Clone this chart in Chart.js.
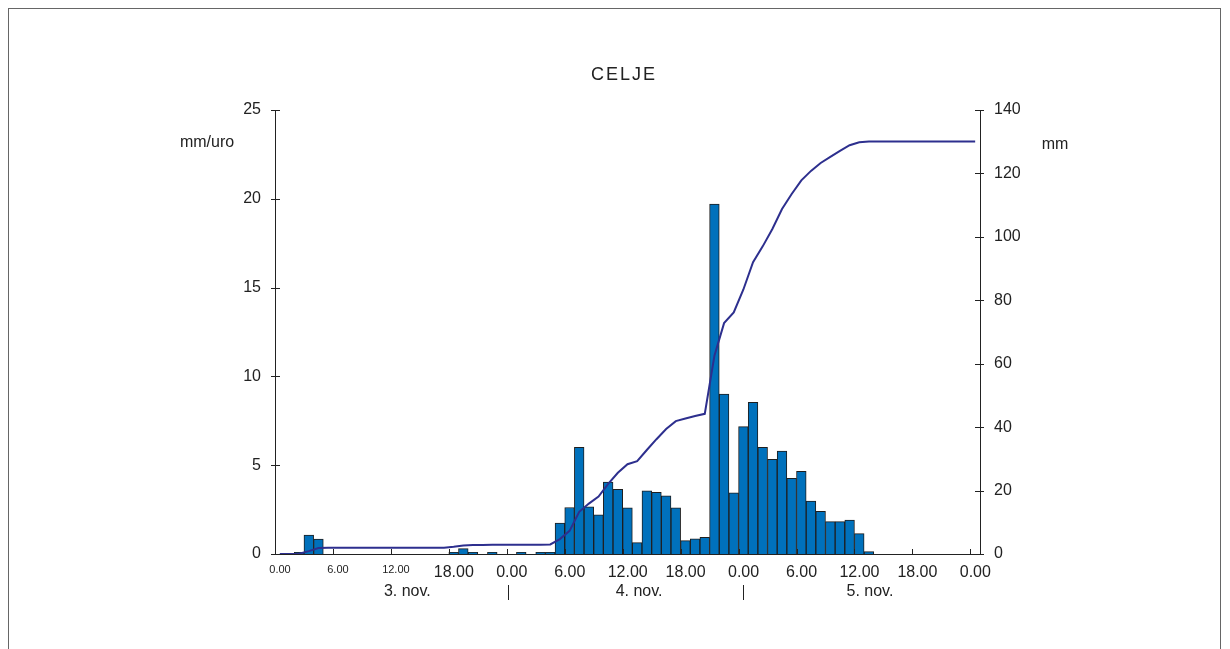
<!DOCTYPE html>
<html>
<head>
<meta charset="utf-8">
<script src="https://cdn.jsdelivr.net/npm/chart.js@4.4.0/dist/chart.umd.min.js"></script>
<style>
  body { margin: 0; background: #fff; }
  canvas { display: block; }
</style>
</head>
<body>
<canvas id="rain" width="1230" height="649"></canvas>
<script>
// hourly rain in Celje (mm/uro), one value per hour starting 3. nov. 0.00
var hourlyRain = [
  0, 0, 0.1, 1.07, 0.84, 0, 0, 0, 0, 0, 0, 0,
  0, 0, 0, 0, 0, 0, 0.1, 0.3, 0.1, 0, 0.1, 0,
  0, 0.1, 0, 0.1, 0.1, 1.74, 2.62, 6.0, 2.66, 2.2, 4.05, 3.64,
  2.6, 0.64, 3.56, 3.47, 3.27, 2.6, 0.75, 0.86, 0.94, 19.7, 9.0, 3.45,
  7.17, 8.54, 6.0, 5.33, 5.8, 4.26, 4.65, 2.98, 2.4, 1.82, 1.82, 1.91,
  1.15, 0.13, 0, 0, 0, 0, 0, 0, 0, 0, 0, 0
];

// accumulated rain (mm), read at the middle of each hour
var totalRain = [
  0, 0, 0.1, 0.9, 1.9, 2.0, 2.0, 2.0, 2.0, 2.0, 2.0, 2.0,
  2.0, 2.0, 2.0, 2.0, 2.0, 2.0, 2.3, 2.7, 2.8, 2.8, 2.9, 2.9,
  2.9, 2.9, 2.9, 2.9, 3.0, 4.7, 7.3, 13.3, 15.9, 18.1, 22.1, 25.6,
  28.3, 29.3, 32.8, 36.2, 39.4, 41.9, 42.7, 43.5, 44.2, 62.5, 72.8, 76.2,
  83.4, 92.0, 97.0, 102.5, 108.8, 113.5, 117.8, 120.8, 123.3, 125.2, 127.1, 128.9,
  129.8, 130.1, 130.1, 130.1, 130.1, 130.1, 130.1, 130.1, 130.1, 130.1, 130.1, 130.1,
  130.1
];

// time axis
var tickHours = [0, 6, 12, 18, 24, 30, 36, 42, 48, 54, 60, 66, 72];
var tickLabels = ["0.00", "6.00", "12.00", "18.00", "0.00", "6.00", "12.00", "18.00", "0.00", "6.00", "12.00", "18.00", "0.00"];
var dayLabels = ["3. nov.", "4. nov.", "5. nov."];
var dayLabelHours = [13.7, 37.7, 61.6];
var dayBreakHours = [24.1, 48.5];

var fontFamily = '"Liberation Sans", Arial, Helvetica, sans-serif';
var textColor = "#222";

// build points, bars sit in the middle of their hour
var barPoints = [];
for (var i = 0; i < hourlyRain.length; i++) {
  if (hourlyRain[i] > 0) {
    barPoints.push({ x: i + 0.5, y: hourlyRain[i] });
  }
}
var linePoints = [];
for (var i = 0; i < totalRain.length; i++) {
  linePoints.push({ x: i + 0.5, y: totalRain[i] });
}

// frame, axis ticks and the extra labels
var extrasPlugin = {
  id: "extras",
  beforeDraw: function (chart) {
    var ctx = chart.ctx;
    ctx.save();
    ctx.fillStyle = "#fff";
    ctx.fillRect(0, 0, chart.width, chart.height);
    ctx.strokeStyle = "#666";
    ctx.lineWidth = 1;
    ctx.strokeRect(8.5, 8.5, 1212, 700);
    ctx.restore();
  },
  afterDraw: function (chart) {
    var ctx = chart.ctx;
    var area = chart.chartArea;
    var x = chart.scales.x;
    var y = chart.scales.y;
    var y1 = chart.scales.y1;

    ctx.save();
    ctx.strokeStyle = textColor;
    ctx.lineWidth = 1;
    ctx.beginPath();
    y.ticks.forEach(function (t) {
      var py = Math.round(y.getPixelForValue(t.value)) + 0.5;
      ctx.moveTo(area.left - 4, py);
      ctx.lineTo(area.left + 5, py);
    });
    y1.ticks.forEach(function (t) {
      var py = Math.round(y1.getPixelForValue(t.value)) + 0.5;
      ctx.moveTo(area.right - 5, py);
      ctx.lineTo(area.right + 4, py);
    });
    x.ticks.forEach(function (t) {
      var px = Math.round(x.getPixelForValue(t.value)) + 0.5;
      ctx.moveTo(px, area.bottom);
      ctx.lineTo(px, area.bottom - 5);
    });
    dayBreakHours.forEach(function (h) {
      var px = Math.round(x.getPixelForValue(h)) + 0.5;
      ctx.moveTo(px, area.bottom + 31);
      ctx.lineTo(px, area.bottom + 46);
    });
    ctx.stroke();

    ctx.fillStyle = textColor;
    ctx.textBaseline = "middle";
    ctx.textAlign = "center";
    ctx.font = "16px " + fontFamily;
    for (var i = 0; i < dayLabels.length; i++) {
      ctx.fillText(dayLabels[i], x.getPixelForValue(dayLabelHours[i]), area.bottom + 38);
    }

    ctx.font = "16px " + fontFamily;
    ctx.fillText("mm/uro", 207, 143);
    ctx.fillText("mm", 1055, 145);

    ctx.font = "18px " + fontFamily;
    ctx.letterSpacing = "2px";
    ctx.fillText("CELJE", 624, 75);
    ctx.restore();
  }
};

var ctx = document.getElementById("rain").getContext("2d");
var chart = new Chart(ctx, {
  data: {
    datasets: [
      {
        type: "line",
        label: "mm",
        data: linePoints,
        xAxisID: "x",
        yAxisID: "y1",
        borderColor: "#2d2f8e",
        borderWidth: 2,
        pointRadius: 0,
        tension: 0,
        fill: false,
        order: 1
      },
      {
        type: "bar",
        label: "mm/uro",
        data: barPoints,
        xAxisID: "x",
        yAxisID: "y",
        backgroundColor: "#0071bc",
        borderColor: "#1e1e1e",
        borderWidth: 1,
        barPercentage: 1,
        categoryPercentage: 1,
        grouped: false,
        order: 2
      }
    ]
  },
  options: {
    responsive: false,
    animation: false,
    layout: { padding: { top: 110, left: 0, right: 0, bottom: 0 } },
    plugins: {
      legend: { display: false },
      tooltip: { enabled: false }
    },
    scales: {
      x: {
        type: "linear",
        min: 0,
        max: 73,
        offset: false,
        afterBuildTicks: function (scale) {
          scale.ticks = tickHours.map(function (h) { return { value: h }; });
        },
        afterFit: function (scale) { scale.height = 95; },
        grid: { display: false, drawTicks: false, offset: false },
        border: { display: true, color: textColor, width: 1 },
        ticks: {
          autoSkip: false,
          maxRotation: 0,
          padding: 9,
          labelOffset: 5,
          color: textColor,
          font: function (c) {
            return { family: fontFamily, size: c.index < 3 ? 11 : 16 };
          },
          callback: function (value, index) { return tickLabels[index]; }
        }
      },
      y: {
        position: "left",
        min: 0,
        max: 25,
        afterFit: function (scale) { scale.width = 275; },
        grid: { display: false, drawTicks: false },
        border: { display: true, color: textColor, width: 1 },
        ticks: { stepSize: 5, padding: 14, color: textColor, font: { family: fontFamily, size: 16 } }
      },
      y1: {
        position: "right",
        min: 0,
        max: 140,
        afterFit: function (scale) { scale.width = 250; },
        grid: { display: false, drawTicks: false },
        border: { display: true, color: textColor, width: 1 },
        ticks: { stepSize: 20, padding: 14, color: textColor, font: { family: fontFamily, size: 16 } }
      }
    }
  },
  plugins: [extrasPlugin]
});
</script>
</body>
</html>
